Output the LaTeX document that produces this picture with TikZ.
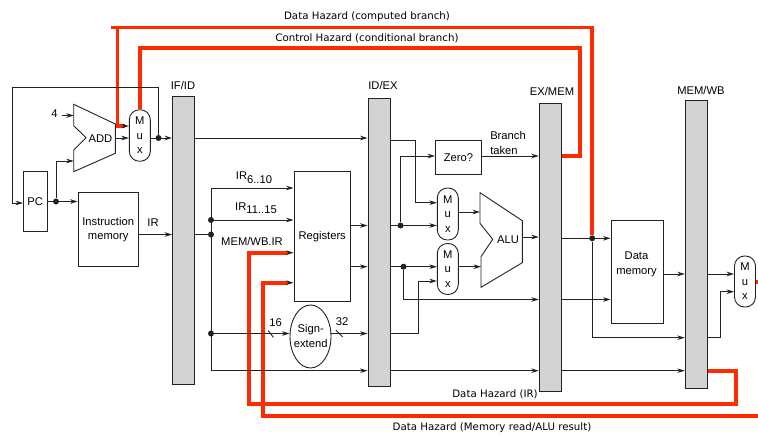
\documentclass[tikz,border=0pt]{standalone}
\usepackage{fontspec}
\setmainfont{Liberation Sans}
\newfontfamily\hazardfont{DejaVu Sans}
\usetikzlibrary{arrows.meta}
\usetikzlibrary{shapes.geometric}
\definecolor{hazardred}{HTML}{FF2A00}
\definecolor{barfill}{HTML}{D3D3D3}
\definecolor{wiregray}{HTML}{222222}
\begin{document}
\begin{tikzpicture}[x=1pt,y=-1pt,>={Stealth[length=7.5pt,width=4.6pt]}]
		\tikzstyle{wire}=[draw=wiregray,line width=0.9pt];
		\tikzstyle{hazard}=[draw=hazardred,line width=3.7pt];
		\tikzstyle{pipereg}=[rectangle,draw=wiregray,fill=barfill,line width=0.9pt,minimum width=22pt,inner sep=0pt];
		\tikzstyle{unit}=[rectangle,draw=wiregray,line width=0.9pt,inner sep=0pt,align=center,font=\fontsize{11.2}{14}\selectfont];
		\tikzstyle{muxnode}=[unit,rounded corners=10pt,minimum width=21pt,font=\fontsize{11.2}{14.5}\selectfont];
		\tikzstyle{joint}=[circle,fill=wiregray,inner sep=0pt,minimum size=6pt];
		\tikzstyle{txt}=[inner sep=0pt,align=left,font=\fontsize{11.2}{15}\selectfont];
		\tikzstyle{hazardtxt}=[inner sep=0pt,font=\hazardfont\fontsize{10.25}{12}\selectfont];
		\useasboundingbox(0,0)rectangle(758,436);

		\node[pipereg,minimum height=288pt](ifid)at(183.5,240){};
		\node[pipereg,minimum height=288pt](idex)at(379,242){};
		\node[pipereg,minimum height=288pt](exmem)at(550.2,247){};
		\node[pipereg,minimum height=288pt](memwb)at(696.2,244.3){};
		\node[txt](ifidtxt)at(183,85){IF/ID};
		\node[txt](idextxt)at(383,85){ID/EX};
		\node[txt](exmemtxt)at(552,91){EX/MEM};
		\node[txt](memwbtxt)at(701,90.5){MEM/WB};

		\node[unit,minimum width=23.5pt,minimum height=60.5pt](pc)at(35.2,201.2){PC};
		\node[unit,minimum width=60.5pt,minimum height=73.5pt](im)at(108.2,229.2){Instruction\\memory};
		\node[unit,minimum width=56.5pt,minimum height=129.5pt](regs)at(322.2,236.2){Registers};
		\node[unit,ellipse,minimum width=41pt,minimum height=63pt](sext)at(310.5,336.5){};
		\node[txt,align=center](sexttxt)at(310.7,335.5){Sign-\\extend};
		\node[unit,minimum width=46pt,minimum height=33.5pt](zero)at(458.5,157.3){Zero?};
		\node[unit,minimum width=52.5pt,minimum height=103pt](dm)at(637.2,272){};
		\node[txt,align=center](dmlabel)at(636.5,264.2){Data\\memory};
		\node[muxnode,minimum height=51.5pt](mux1)at(139.8,135.5){M\\u\\x};
		\node[muxnode,minimum height=52pt](mux2)at(447.8,214){M\\u\\x};
		\node[muxnode,minimum height=51pt](mux3)at(447.8,269){M\\u\\x};
		\node[muxnode,minimum height=51pt](mux4)at(745,281.5){M\\u\\x};

		\draw[wire](73.7,104.3)coordinate(adda)--(115.3,124)--(115.3,153.3)--(73.7,171.7)--(73.7,150)--(86,137.7)--(73.7,125.7)--cycle;
		\node[txt](add)at(100.5,138.5){ADD};
		\draw[wire](480,192.7)coordinate(alua)--(522.3,220.7)--(522.3,262.7)--(481,287.3)--(481,256.7)--(492.7,239.3)--(480,223.3)--cycle;
		\node[txt](alu)at(508,239.5){ALU};

		\node[joint](pcdot)at(56,201.5){};
		\node[joint](npcdot)at(158.5,138){};
		\node[joint](irdot)at(211,234.5){};
		\node[joint](rtdot)at(211,220){};
		\node[joint](immdot)at(211,333.5){};
		\node[joint](adot)at(400.5,225.5){};
		\node[joint](bdot)at(403.5,266.7){};
		\node[joint](aludot)at(592.2,238.3){};

		\coordinate(dh1)at(111,27.5);
		\coordinate(dh2)at(117.5,27.5);
		\coordinate(dh3)at(592.2,27.5);
		\coordinate(dh4)at(117.5,126);
		\coordinate(dh5)at(125,126);
		\coordinate(ch1)at(580,156);
		\coordinate(ch2)at(580,48.3);
		\coordinate(ch3)at(139.8,48.3);
		\coordinate(irh1)at(736,371);
		\coordinate(irh2)at(736,404);
		\coordinate(irh3)at(249.3,404);
		\coordinate(irh4)at(249.3,252.7);
		\coordinate(irh5)at(288,252.7);
		\coordinate(mh1)at(758,416);
		\coordinate(mh2)at(263,416);
		\coordinate(mh3)at(263,282.7);
		\coordinate(mh4)at(288,282.7);
		\coordinate(mh5)at(758,282.3);
		\draw[hazard](dh1)--(dh3)--(aludot.north);
		\draw[hazard](dh2)--(dh4)--(dh5);
		\draw[hazard](exmem.east|-ch1)--(ch1)--(ch2)--(ch3)--(mux1.north);
		\draw[hazard](memwb.east|-irh1)--(irh1)--(irh2)--(irh3)--(irh4)--(irh5);
		\draw[hazard](mh1)--(mh2)--(mh3)--(mh4);
		\draw[hazard](mux4.east|-mh5)--(mh5);

		\draw[wire,->](dh5)--(mux1.west|-dh5);
		\draw[wire,->](irh5)--(regs.west|-irh5);
		\draw[wire,->](mh4)--(regs.west|-mh4);

		\coordinate(four)at(62,115.5);
		\node[txt](fourtxt)at(54.5,113.5){4};
		\draw[wire,->](four)--(four-|adda);
		\coordinate(addout)at(115.3,138);
		\draw[wire,->](addout)--(addout-|mux1.west);
		\draw[wire,->](mux1.east|-npcdot)--(npcdot-|ifid.west);
		\coordinate(loop1)at(158.5,87.5);
		\coordinate(loop2)at(12.5,87.5);
		\coordinate(loop3)at(12.5,203);
		\draw[wire,->](npcdot)--(loop1)--(loop2)--(loop3)--(loop3-|pc.west);
		\draw[wire,->](pc.east|-pcdot)--(pcdot-|im.west);
		\coordinate(addin)at(56,161);
		\draw[wire,->](pcdot)--(addin)--(addin-|adda);

		\coordinate(imout)at(138.5,234.5);
		\node[txt](irtxt)at(153,222.5){IR};
		\draw[wire,->](imout)--(imout-|ifid.west);
		\draw[wire](ifid.east|-irdot)--(irdot);
		\coordinate(rs)at(211,188);
		\coordinate(low)at(211,370.7);
		\draw[wire,->](rs)--(rs-|regs.west);
		\draw[wire](rs)--(low);
		\draw[wire,->](rtdot)--(rtdot-|regs.west);
		\draw[wire,->](immdot)--(immdot-|sext.west);
		\draw[wire,->](low)--(low-|idex.west);
		\draw[wire,->](idex.east|-low)--(low-|exmem.west);
		\draw[wire,->](ifid.east|-npcdot)--(npcdot-|idex.west);
		\node[txt](irsixtxt)at(254,177.5){IR\raisebox{-3.5pt}{6..10}};
		\node[txt](irelevtxt)at(256,208){IR\raisebox{-3.5pt}{11..15}};
		\node[txt](wbtxt)at(252,241.5){MEM/WB.IR};
		\node[txt](sixteentxt)at(275.5,323){16};
		\node[txt](thirtytxt)at(342,322){32};
		\coordinate(slasha)at(270.8,334);
		\coordinate(slashb)at(339.3,333.5);
		\draw[wire](slasha)+(-2.6,-3.4)--+(2.6,3.4);
		\draw[wire](slashb)+(-3.3,-3.3)--+(3.3,3.3);
		\draw[wire,->](sext.east|-immdot)--(immdot-|idex.west);
		\coordinate(imm1)at(418.5,333.5);
		\coordinate(imm2)at(418.5,281);
		\draw[wire,->](idex.east|-imm1)--(imm1)--(imm2)--(imm2-|mux3.west);

		\draw[wire,->](regs.east|-adot)--(adot-|idex.west);
		\draw[wire,->](regs.east|-bdot)--(bdot-|idex.west);
		\draw[wire,->](idex.east|-adot)--(adot-|mux2.west);
		\draw[wire,->](idex.east|-bdot)--(bdot-|mux3.west);
		\coordinate(npc1)at(415,140.7);
		\coordinate(npc2)at(415,202.7);
		\draw[wire,->](idex.east|-npc1)--(npc1)--(npc2)--(npc2-|mux2.west);
		\coordinate(zin)at(400.5,156);
		\draw[wire,->](adot)--(zin)--(zin-|zero.west);
		\draw[wire,->](zero.east|-zin)--(zin-|exmem.west);
		\node[txt](brtxt)at(508,142.5){Branch\\taken};
		\coordinate(aluina)at(458.5,212);
		\coordinate(aluinb)at(458.5,266.7);
		\draw[wire,->](aluina)--(aluina-|alua);
		\draw[wire,->](aluinb)--(481,266.7);
		\coordinate(aluout)at(522.3,237);
		\draw[wire,->](aluout)--(aluout-|exmem.west);
		\coordinate(b1)at(403.5,299.5);
		\draw[wire,->](bdot)--(b1)--(b1-|exmem.west);

		\draw[wire,->](exmem.east|-aludot)--(aludot-|dm.west);
		\draw[wire,->](exmem.east|-b1)--(b1-|dm.west);
		\coordinate(res1)at(592.2,337.7);
		\draw[wire,->](aludot)--(res1)--(res1-|memwb.west);
		\coordinate(dmout)at(663.5,274);
		\draw[wire,->](dmout)--(dmout-|memwb.west);
		\draw[wire,->](memwb.east|-dmout)--(dmout-|mux4.west);
		\coordinate(res2)at(720.5,337.7);
		\coordinate(res3)at(720.5,291.7);
		\draw[wire,->](memwb.east|-res2)--(res2)--(res3)--(res3-|mux4.west);
		\draw[wire,->](exmem.east|-low)--(low-|memwb.west);

		\node[hazardtxt](dbtxt)at(367,17){Data Hazard (computed branch)};
		\node[hazardtxt](cbtxt)at(367,38){Control Hazard (conditional branch)};
		\node[hazardtxt](dirtxt)at(495,394){Data Hazard (IR)};
		\node[hazardtxt](dmtxt)at(492,428){Data Hazard (Memory read/ALU result)};
	\end{tikzpicture}
\end{document}
